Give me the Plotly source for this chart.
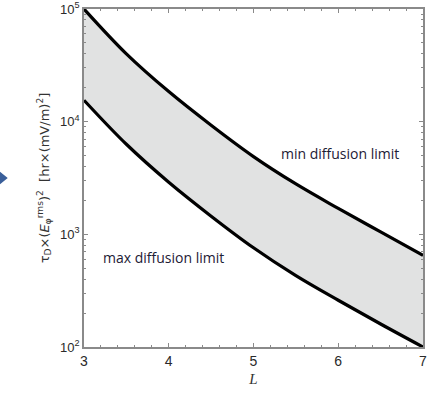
import plotly.graph_objects as go

L_vals = [3.0, 3.5, 4.0, 4.5, 5.0, 5.5, 6.0, 6.5, 7.0]
min_diffusion = [100000, 40000, 18500, 9300, 4900, 2800, 1700, 1050, 650]
max_diffusion = [15500, 6300, 2900, 1450, 760, 430, 260, 160, 100]

x_ticks = [3, 4, 5, 6, 7]
y_tickvals = [100, 1000, 10000, 100000]
y_ticktext = ["10<sup>2</sup>", "10<sup>3</sup>", "10<sup>4</sup>", "10<sup>5</sup>"]
y_minor = [m * d for d in (100, 1000, 10000) for m in range(2, 10)]

fig = go.Figure()
fig.add_trace(go.Scatter(x=L_vals, y=max_diffusion, mode="lines",
                         line=dict(color="black", width=3.2, shape="spline"),
                         showlegend=False, hoverinfo="skip"))
fig.add_trace(go.Scatter(x=L_vals, y=min_diffusion, mode="lines",
                         line=dict(color="black", width=3.2, shape="spline"),
                         fill="tonexty", fillcolor="#e1e2e2",
                         showlegend=False, hoverinfo="skip"))

fig.add_annotation(x=6.02, y=3.72, xref="x", yref="y", text="min diffusion limit",
                   showarrow=False, font=dict(family="Open Sans", size=14, color="#1d2035"))
fig.add_annotation(x=3.94, y=2.79, xref="x", yref="y", text="max diffusion limit",
                   showarrow=False, font=dict(family="Open Sans", size=14, color="#1d2035"))

# small blue arrow fragment at the left edge
fig.add_shape(type="path", xref="paper", yref="paper",
              path="M -0.25 0.52 L -0.225 0.5 L -0.25 0.48 Z",
              fillcolor="#3a5f9a", line=dict(width=0))

axis_common = dict(showline=True, linecolor="#8a8a8a", linewidth=1.5, mirror="ticks",
                   ticks="inside", ticklen=4, tickcolor="#8a8a8a", showgrid=False,
                   zeroline=False, automargin=False)

fig.update_xaxes(range=[3, 7], tickvals=x_ticks, **axis_common,
                 minor=dict(ticks="inside", ticklen=2, tickcolor="#8a8a8a", dtick=0.2, showgrid=False),
                 tickfont=dict(family="Liberation Sans", size=14, color="#2a2a2a"),
                 title=dict(text="<i>L</i>", font=dict(family="Liberation Serif", size=15, color="#333333"),
                            standoff=6))
fig.update_yaxes(type="log", range=[2, 5], tickvals=y_tickvals, ticktext=y_ticktext, **axis_common,
                 minor=dict(ticks="inside", ticklen=2, tickcolor="#8a8a8a", tickvals=y_minor, showgrid=False),
                 tickfont=dict(family="Liberation Sans", size=13, color="#2a2a2a"),
                 title=dict(text="τ<sub>D</sub>×(<i>E</i><sub>φ</sub><sup>rms</sup>)<sup>2</sup>  [hr×(mV/m)<sup>2</sup>]",
                            font=dict(family="DejaVu Sans", size=13, color="#333333"), standoff=8))

fig.update_layout(width=437, height=397, margin=dict(l=84, r=14, t=9, b=50),
                  plot_bgcolor="white", paper_bgcolor="white")

fig.write_html("out.html", config={"displayModeBar": False},
               post_script="document.body.style.margin='0';")
